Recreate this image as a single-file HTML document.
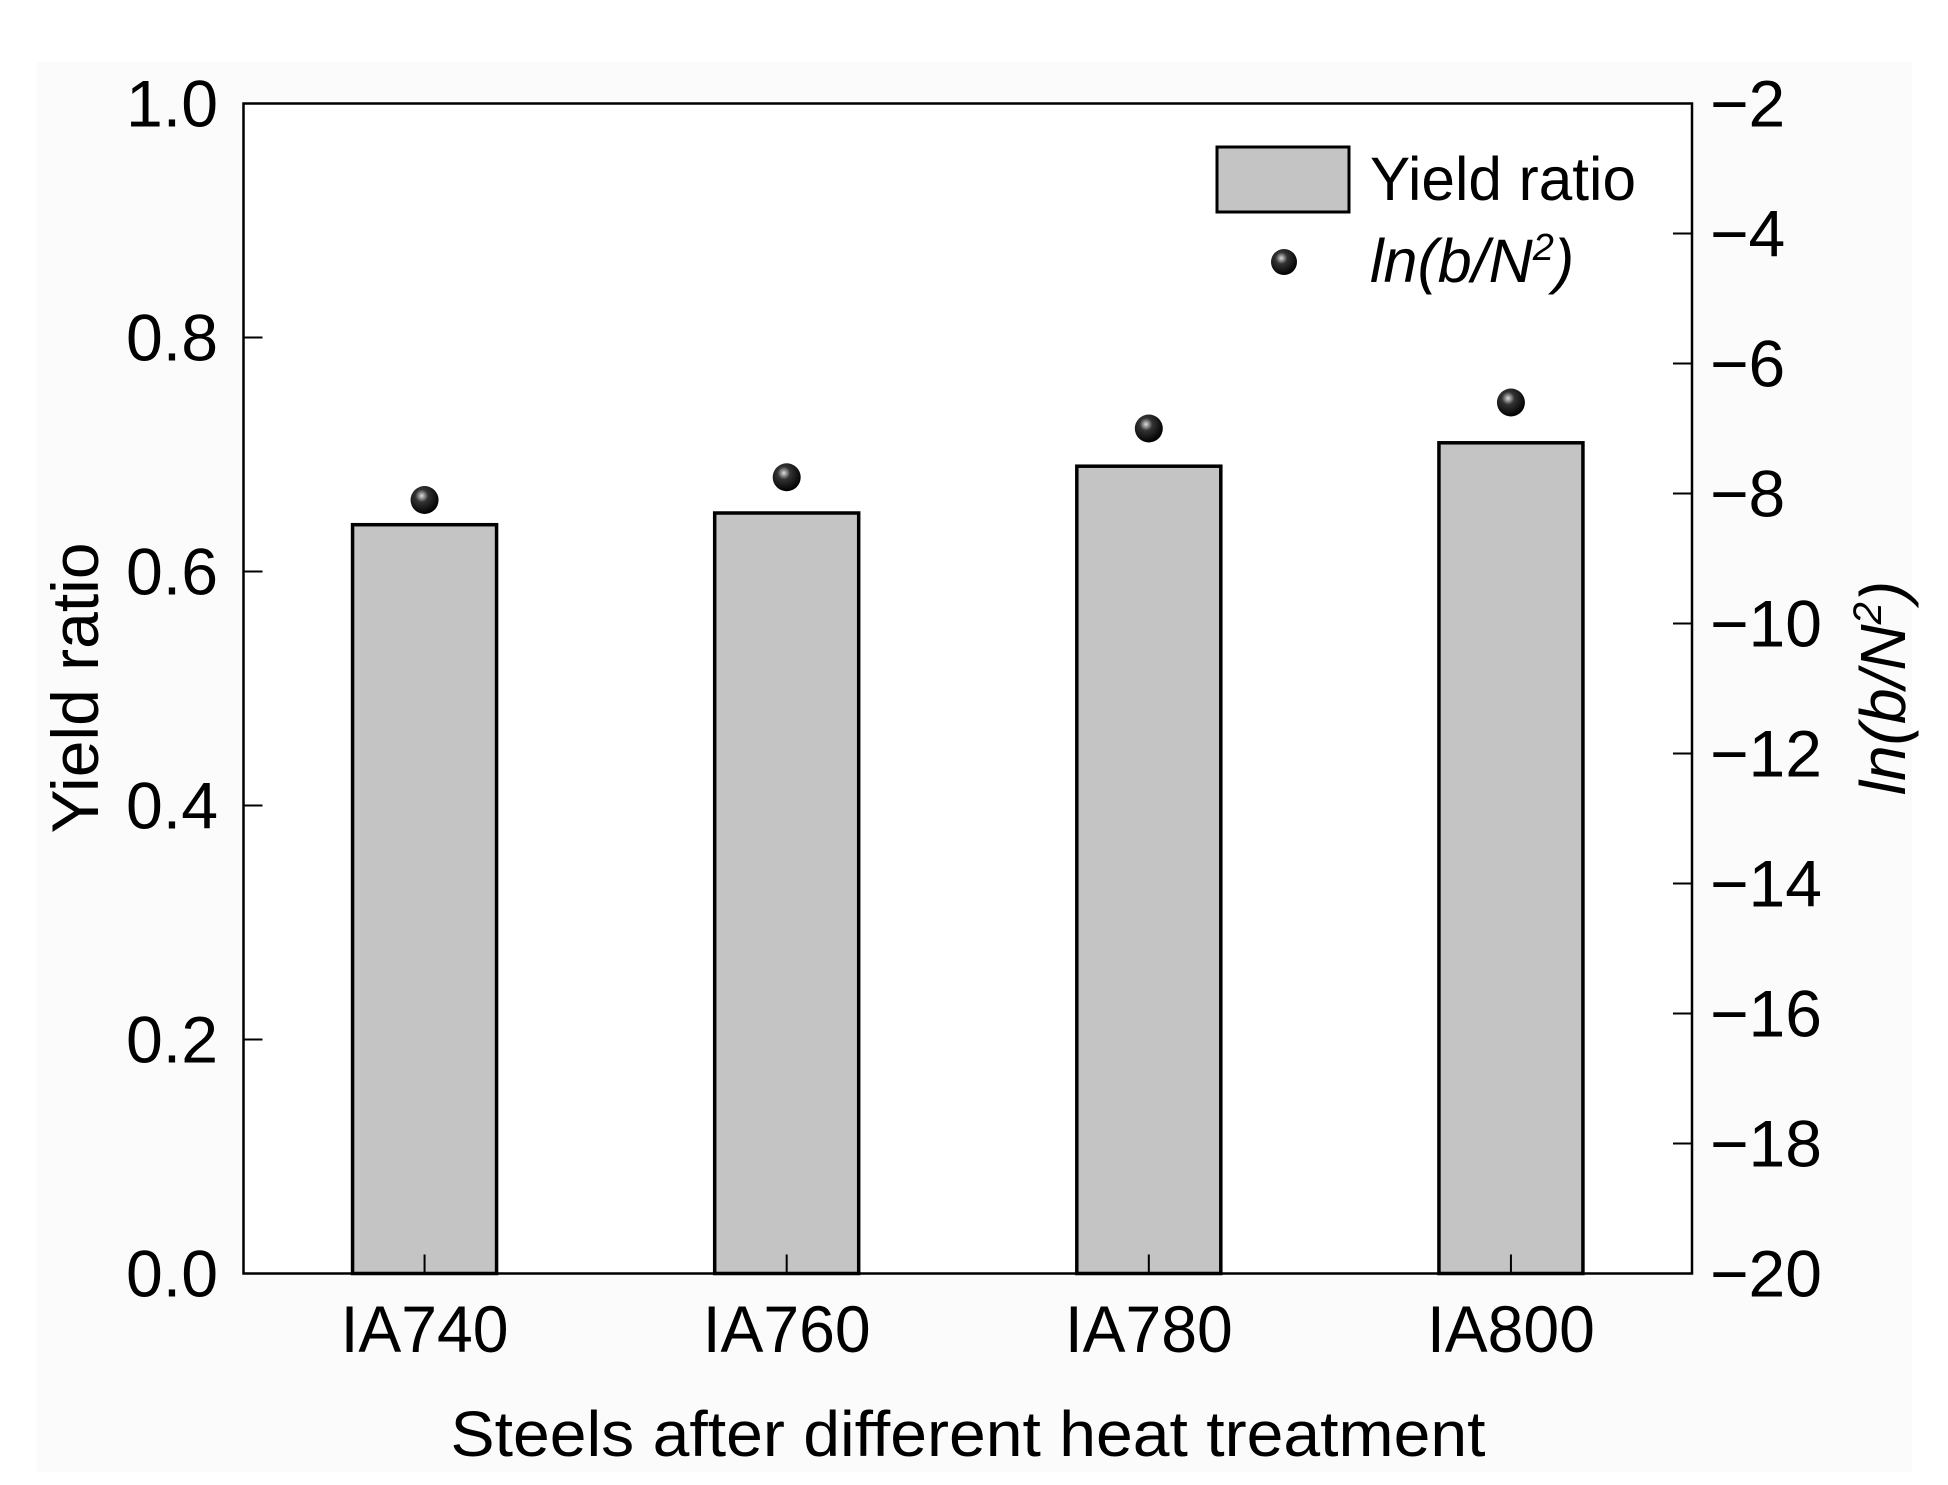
<!DOCTYPE html>
<html><head><meta charset="utf-8"><style>
html,body{margin:0;padding:0;background:#fff;}
svg{display:block;font-family:"Liberation Sans",sans-serif;}
</style></head><body>
<svg id="chart" width="1948" height="1485" viewBox="0 0 1948 1485" xmlns="http://www.w3.org/2000/svg">
<defs><radialGradient id="ball" cx="0.4" cy="0.35" r="0.65"><stop offset="0" stop-color="#ddd"/><stop offset="0.35" stop-color="#333"/><stop offset="1" stop-color="#000"/></radialGradient></defs>
<rect x="0" y="0" width="1948" height="1485" fill="#fff"/>
<rect x="37" y="62" width="1875" height="1410" fill="#fbfbfb"/>
<rect x="243.5" y="103.5" width="1448.5" height="1170" fill="#fff" stroke="#000" stroke-width="2.5"/>
<g id="bars"></g><g id="dots"></g><g id="axes"></g>
<g>
<rect x="1217" y="147" width="132" height="65" fill="#c4c4c4" stroke="#000" stroke-width="3"/>
<text x="1370" y="200" font-size="61" textLength="266" lengthAdjust="spacingAndGlyphs">Yield ratio</text>
<circle cx="1284" cy="262" r="13" fill="url(#ball)"/>
<text x="1370" y="282" font-size="61" font-style="italic">ln(b/N<tspan dy="-22" font-size="38">2</tspan><tspan dy="22">)</tspan></text>
</g>
<text transform="translate(98,688) rotate(-90)" text-anchor="middle" font-size="66">Yield ratio</text>
<text transform="translate(1905,688) rotate(-90)" text-anchor="middle" font-size="64" font-style="italic">ln(b/N<tspan dy="-24" font-size="40">2</tspan><tspan dy="24">)</tspan></text>
<text x="968" y="1456" text-anchor="middle" font-size="64" textLength="1035" lengthAdjust="spacingAndGlyphs">Steels after different heat treatment</text>
</svg>
<script>
const categories = ["IA740","IA760","IA780","IA800"];
const yieldRatio = [0.64, 0.65, 0.69, 0.71];
const lnValues = [-8.1, -7.75, -7.0, -6.6];
const leftTicks = ["0.0","0.2","0.4","0.6","0.8","1.0"];
const rightTicks = [-20,-18,-16,-14,-12,-10,-8,-6,-4,-2];
const NS="http://www.w3.org/2000/svg";
const X0=243.5,X1=1692,Y0=1273.5,Y1=103.5;
const yL=v=>Y0-(v-0)/(1-0)*(Y0-Y1);
const yR=v=>Y0-(v+20)/18*(Y0-Y1);
const step=(X1-X0)/4;
const xC=i=>X0+step*(i+0.5);
function mk(t,a,p){const e=document.createElementNS(NS,t);for(const k in a)e.setAttribute(k,a[k]);p.appendChild(e);return e;}
const bars=document.getElementById('bars'),dots=document.getElementById('dots'),axes=document.getElementById('axes');
const bw=144;
categories.forEach((c,i)=>{
  const b=mk('rect',{x:xC(i)-bw/2,y:yL(yieldRatio[i]),width:bw,height:Y0-yL(yieldRatio[i]),fill:'#c4c4c4',stroke:'#000','stroke-width':3.5},bars);
  
  
  const d=mk('circle',{cx:xC(i),cy:yR(lnValues[i]),r:14,fill:'url(#ball)'},dots);
  
  
  const tk=mk('line',{x1:xC(i),x2:xC(i),y1:Y0,y2:Y0-19,stroke:'#000','stroke-width':2},axes);
  
  
  const t=mk('text',{x:xC(i),y:1352,'text-anchor':'middle','font-size':66,textLength:168,lengthAdjust:'spacingAndGlyphs'},axes);
  t.textContent=c;
  
  
});
leftTicks.forEach(s=>{
  const y=yL(parseFloat(s));
  const l=mk('line',{x1:X0,x2:X0+19,y1:y,y2:y,stroke:'#000','stroke-width':2},axes);
  
  
  const t=mk('text',{x:218,y:y+23,'text-anchor':'end','font-size':66,textLength:92,lengthAdjust:'spacingAndGlyphs'},axes);
  t.textContent=s;
  
  
});
rightTicks.forEach(v=>{
  const y=yR(v);
  const l=mk('line',{x1:X1-19,x2:X1,y1:y,y2:y,stroke:'#000','stroke-width':2},axes);
  
  
  const t=mk('text',{x:1710,y:y+23,'font-size':66},axes);
  t.textContent='\u2212'+Math.abs(v);
  
  
});
</script>
</body></html>
